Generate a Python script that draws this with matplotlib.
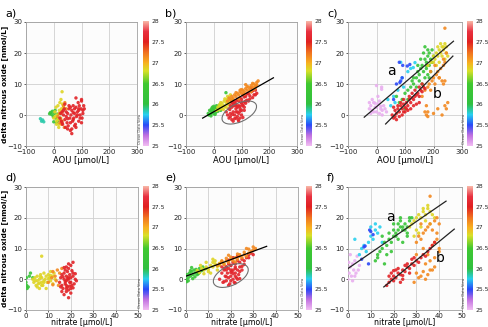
import matplotlib
matplotlib.use("Agg")
import matplotlib.pyplot as plt
import numpy as np
from matplotlib.colors import LinearSegmentedColormap, Normalize
from matplotlib.patches import Ellipse
import matplotlib.cm as cm

# ---------------- data ----------------
# panel a: AOU vs delta N2O (groups with density)
a_teal_x = [-48, -44, -40, -36]
a_teal_y = [-1.2, -2.0, -1.6, -2.2]
a_green_x = [-12, -8, -5, -2, 2, 5, 8, 12, 15, -15, 0, 10]
a_green_y = [0.8, 0.2, 1.2, -0.5, 0.5, 1.5, -1.0, 0.3, -1.8, 0.4, -2.2, -2.5]
a_yellow_x = [0, 4, 8, 10, 12, 15, 18, 20, 22, 25, 28, 30, 5, 14, 24, 32, 35, 18, 10, 26, 30]
a_yellow_y = [-1, 1, 2.5, -2, 0, 3, -3, 1.5, 4, -1, 2, 7.5, -0.5, -1.5, 0.5, 3.5, 2.5, -4, -3, 5, -2]
a_orange_x = [15, 20, 25, 30, 35, 40, 22, 28, 45, 38]
a_orange_y = [-0.5, 0.5, -1.5, 1, 3, 4, -2.5, -3, 2, -4]
a_red_x = [22, 25, 28, 30, 32, 35, 38, 40, 42, 45, 48, 50, 52, 55, 58, 60, 62, 65, 68, 70, 72, 75, 78, 80,
           82, 85, 88, 90, 92, 95, 98, 100, 102, 105, 108, 30, 40, 50, 60, 70, 80, 90, 100, 35, 45, 55, 65,
           75, 85, 95, 105, 60, 70, 50, 80, 90, 100, 110, 65, 75]
a_red_y = [-1, 0.5, -2, 1, -3, 0, 2, -1.5, -4, 1, -2.5, 0.5, -3.5, 2, -1, -5, 0, 1.5, -2, 3, -1, 0.5, -3, 2.5,
           -0.5, 1, 4, -2, 3, 0, 2, 5, -1, 1.5, 3, -2.5, 3.5, -4.5, 2.5, -1.5, -4, 1.5, 4.5, 1.5, -0.5, 3, -6,
           -3.5, 0, -1, 0.5, -2.5, 0.8, -1.2, 5.5, 2, -2.5, 2, -4.5, 2]

# panel d: nitrate vs delta N2O
d_green_x = [0, 0.3, 0.5, 1, 0.2, 1.5, 2, 3]
d_green_y = [-1, -2, -3, -2.5, 0.5, 1, 2, 0.5]
d_yellow_x = [3, 3.5, 4, 4.5, 5, 5, 5.5, 6, 6, 6.5, 7, 7, 7.5, 8, 8, 8.5, 9, 9.5, 10, 10.5, 11, 11, 12, 12.5,
              13, 4, 5, 6, 7, 8, 9, 10, 11, 12, 6.5, 7]
d_yellow_y = [0, -1, 0.5, -2, 1, -0.5, -1.5, 0, -3, 1.5, -1, 0.5, -2, 2, -0.5, 0, 1, -1, 1.5, 0.5, -0.5, 2.5,
              1, 2, 0, -0.5, -2.5, -1.2, -2, -1, -3, 0.2, 1.2, -1.5, 0.8, 7.5]
d_orange_x = [10, 12, 13, 14, 15, 13.5, 11.5, 14.5, 16, 12]
d_orange_y = [-1, 2.5, 1, 3, 2, -0.5, 0.5, -2, 3.5, -1.8]
d_red_x = [15, 15.5, 16, 16, 16.5, 17, 17, 17.5, 17.5, 18, 18, 18, 18.5, 18.5, 19, 19, 19, 19.5, 19.5, 20, 20,
           20, 20.5, 21, 21, 21.5, 22, 22.5, 16, 17, 18, 19, 20, 21, 16.5, 17.5, 18.5, 19.5, 20.5, 15.5, 18,
           19, 17, 20, 21, 22, 18, 19]
d_red_y = [-1, 0.5, -2, 1.5, -3, 0, 2, -1.5, 3, -4, -0.5, 1, -2.5, 2.5, -6, 0, 3.5, -1, 1.5, -3, 0.5, 4.5,
           -2, 1, 5.5, -1.5, 0, -0.5, -4, -5, -2, -3.5, -1, 2, 0.8, -0.8, 0.2, -2.2, 2.8, -2.5, 4, 5, 3.8,
           -4.5, -2.8, 1.8, -3, 0.6]

# panel b
b_green_x = [-20, -15, -12, -10, -8, -5, -3, 0, 2, 5, 8, 10, 12, 15, 18, -10, -5, 0, 5, 10, -18, 20, 25, 44]
b_green_y = [0.5, 1.5, 0.2, 1.2, 2, 0.8, 1.8, 0.4, 1.5, 2.2, 0.9, 1.9, 2.5, 1.2, 2.2, -0.3, 2.5, 2.8, 0.2, 3,
             0, 3.2, 1.5, 7.2]
b_yellow_x = [10, 15, 20, 25, 28, 30, 35, 38, 40, 45, 48, 50, 55, 58, 60, 65, 20, 30, 40, 50, 35, 45, 55, 25, 60]
b_yellow_y = [1.5, 2.5, 1.8, 3, 2.2, 3.8, 3, 4.5, 2.8, 4, 5, 3.6, 4.8, 5.5, 4.2, 5, 3.2, 2, 5.2, 6, 1.8, 2.5,
              3.2, 4, 6.5]
b_orange_x = [50, 55, 60, 65, 70, 75, 80, 85, 90, 95, 100, 105, 110, 115, 120, 125, 130, 135, 140, 145, 150,
              155, 160, 70, 80, 90, 100, 110, 120, 130, 140, 150, 95, 115, 135, 155, 145]
b_orange_y = [4.5, 5.5, 5, 6, 5.5, 6.5, 6, 7, 6.5, 7.5, 7, 8, 7.5, 8.5, 8, 9, 8.5, 9.5, 9, 10, 9.5, 10.5, 11,
              4.8, 7.2, 5.2, 8.2, 6.8, 9.2, 7.8, 10.2, 8.8, 8, 9.8, 7.5, 9.6, 8.3]
b_red_x = [70, 75, 80, 85, 90, 95, 100, 105, 110, 115, 120, 125, 130, 135, 140, 145, 150, 155, 100, 110, 120,
           130, 140, 150, 85, 95, 105, 115, 125, 135]
b_red_y = [3, 4, 3.5, 5, 4.5, 5.5, 5, 6.5, 5.8, 6, 6.8, 7, 6.2, 7.5, 7.8, 6.5, 8, 7, 3.8, 4.2, 4.8, 5.2, 5.6,
           6.5, 2.5, 2.8, 3.2, 3.8, 4.5, 8.8]
b_ell_x = [45, 50, 55, 55, 60, 60, 65, 65, 70, 70, 70, 75, 75, 80, 80, 80, 85, 85, 90, 90, 95, 95, 100, 100,
           105, 110, 115, 60, 70, 80, 90, 100, 65, 75, 85, 95, 105, 110, 58, 68, 78, 88]
b_ell_y = [1, 0, 2, -1, 3, 0.5, -1.5, 2.5, 4, 1, -2, 3, 0, -1, 2, 4.5, 1, -0.5, 3, 0.5, 2, -1, 4, 1.5, 3, 2.5,
           4.5, -0.5, 3.5, 1, -2, 0, 4, -1.2, 2.8, 1.2, -0.8, 1.5, 1.8, 0.2, 3.2, -1.5]
b_line_x = [-40, 215]
b_line_y = [-1, 12]

# panel e
e_green_x = [0, 0.5, 1, 1.5, 2, 2.5, 3, 3.5, 4, 4.5, 5, 5.5, 6, 7, 8, 1, 2, 3, 4, 5, 6, 0.3, 2.5, 7.5, 9]
e_green_y = [0, 1.5, 0.5, 2, 1, 2.5, 1.5, 3, 2, 3.2, 2.5, 1.8, 3.5, 2.8, 3.2, -0.5, 2.8, 0.2, 0.8, 1.5, 2.2,
             -0.8, 3.8, 4, 3.5]
e_yellow_x = [5, 6, 7, 8, 9, 10, 11, 12, 13, 14, 15, 8, 10, 12, 14, 16, 9, 11, 13, 15, 17, 12, 6.5]
e_yellow_y = [2.8, 2.2, 3.5, 3, 4, 3.2, 4.5, 4, 5, 4.2, 5.2, 1.8, 2.5, 5.5, 3, 5.8, 5.5, 2, 6, 4.5, 5, 6.5, 4.5]
e_orange_x = [14, 15, 16, 17, 18, 19, 20, 21, 22, 23, 24, 25, 26, 27, 28, 29, 30, 31, 18, 20, 22, 24, 26, 28,
              30, 16, 19, 23, 27]
e_orange_y = [4.5, 5, 5.5, 4.8, 6, 5.5, 6.5, 6, 7, 6.5, 7.5, 7, 8, 7.5, 8.5, 9, 10.5, 10, 6.8, 7.2, 5.6, 8, 8.8,
              9.8, 9.5, 6, 7.8, 8.2, 10]
e_red_x = [17, 18, 19, 20, 21, 22, 23, 24, 25, 26, 27, 28, 29, 30, 20, 22, 24, 26, 19, 21, 23, 25, 28]
e_red_y = [3.5, 4, 5, 4.5, 5.5, 5, 6, 5.5, 6.5, 6, 7, 8, 8.5, 8, 3, 3.5, 4, 4.8, 6.2, 7, 7.5, 4.2, 7]
e_ell_x = [15, 16, 16.5, 17, 17.5, 18, 18, 18.5, 19, 19, 19.5, 20, 20, 20.5, 21, 21, 21.5, 22, 22, 22.5, 23,
           23.5, 24, 25, 17, 18, 19, 20, 21, 22, 23, 16, 18, 20, 22, 24]
e_ell_y = [0, 2, -1, 3, 1, -0.5, 4, 2, 0.5, 3.5, -1.5, 1, 4.5, 2.5, 0, 3, -1, 2, 4, 0.5, 3, 1.5, 2.5, 3, -0.8,
           0.8, -2, -0.5, 1.8, -1.2, 0, 4, 3, 2.2, 1, 0.2]
e_line_x = [0, 36]
e_line_y = [1, 10.7]

# panel c
c_pink_x = [-25, -20, -15, -10, -5, 0, 5, 10, 15, 20, 25, -20, -10, 0, 10, 20, -15, -5, 5, 15, 30, -25, 35, 0, 18, 18]
c_pink_y = [2, 3, 1.5, 4, 2.5, 1, 3.5, 0.5, 2, 1.5, 3, 0.5, 1, 2.5, 4.5, 0, 5, 3.8, 6, 2.8, 2, 4, 1, 9.5, 9, 8.3]
c_blue_x = [70, 82, 85, 92, 108, 117, 80, 90, 60]
c_blue_y = [10, 10.5, 11, 16, 15.8, 16.3, 17, 12, 5]
c_cyan_x = [60, 65, 75, 90, 110, 120, 129, 95, 50, 40, 85, 135]
c_cyan_y = [6, 4, 8, 12, 14, 15, 15.3, 9, 3, 5, 17, 16.9]
c_green_x = [70, 80, 90, 100, 110, 120, 125, 130, 140, 145, 150, 155, 160, 165, 170, 170, 175, 175, 180, 180,
             185, 185, 190, 190, 195, 200, 160, 150, 140, 130, 165, 175, 185, 195, 155, 145, 170, 180, 100, 110]
c_green_y = [6, 4, 5, 7, 8, 9, 11, 10, 12, 14, 13, 15, 16, 14, 18, 12, 17, 15, 19, 13, 16, 20, 18, 14, 17, 19,
             10, 11, 9, 12, 20, 16, 12, 21, 18, 16, 22, 21, 2, 5]
c_yellow_x = [200, 205, 210, 215, 220, 225, 230, 235, 240, 245, 210, 220, 230, 240, 215, 225, 235, 200, 190, 180,
              245, 250]
c_yellow_y = [17, 18, 20, 19, 21, 20, 22, 21, 23, 20, 16, 17, 19, 18, 22, 23, 22, 19, 17, 16, 22, 19]
c_orange_x = [160, 170, 180, 185, 190, 195, 200, 205, 210, 215, 220, 225, 230, 235, 240, 175, 190, 205, 220, 235,
              180, 200, 215, 230, 240, 245, 170, 175, 180, 250, 240, 245, 235, 240]
c_orange_y = [6, 8, 9, 10, 8, 11, 12, 10, 13, 14, 12, 15, 11, 16, 17, 3, 14, 16, 12, 10, 1, 0.5, 2, 0, 3, 2, 1,
              0, -0.5, 4, 28, 20, 18, 11]
c_red_x = [55, 60, 65, 70, 75, 80, 85, 90, 95, 100, 105, 110, 115, 120, 125, 130, 135, 140, 145, 150, 155, 160,
           165, 170, 70, 80, 90, 100, 110, 120, 130, 140, 150, 60, 75, 85, 95, 105, 115, 125, 65, 95, 135, 150, 160]
c_red_y = [0, -1, 1.5, 0.5, 2, 1, 3, 2, 3.5, 2.5, 4, 3, 5, 4, 5.5, 5, 6, 6.5, 7, 6, 8, 7.5, 9, 8.5, -1.5, -0.5,
           0, 1, 1.5, 2, 3, 3.5, 4, 2.5, 3, 4, 1, 2, 6, 7, -0.5, 5, 8, 9, 10]
c_line_a_x = [-43, 270]
c_line_a_y = [-0.7, 23.8]
c_line_b_x = [32, 268]
c_line_b_y = [-2.9, 19.0]

# panel f
f_pink_x = [0, 0.5, 1, 1.5, 2, 2.5, 3, 3.5, 4, 5, 1, 2, 3, 0.3, 4.5]
f_pink_y = [0, 2, 4, 1, 5, 3, 6, 2, 7.5, 4.5, 8, -0.5, 1, 5.5, 3]
f_cyan_x = [5, 6, 7, 8, 9, 10, 11, 12, 13, 14, 15, 12, 10, 3]
f_cyan_y = [8, 10, 11, 9, 12, 14, 13, 16, 15, 17, 12, 18, 17, 13]
f_blue_x = [7, 7.5, 9.5, 10, 11, 6, 9]
f_blue_y = [10.5, 10.8, 16, 15.5, 14.5, 6.5, 5]
f_green_x = [12, 13, 14, 15, 16, 17, 18, 19, 20, 21, 22, 23, 24, 25, 26, 27, 28, 18, 20, 22, 24, 26, 17, 19, 21,
             23, 25, 27, 15, 13, 16, 22, 24, 26, 20, 23]
f_green_y = [6, 8, 9, 10, 12, 11, 13, 12, 14, 15, 16, 17, 16, 18, 17, 19, 20, 15, 16, 18, 17, 15, 8, 9, 14, 19,
             16, 20, 14, 7, 5, 13, 12, 14, 18, 20]
f_yellow_x = [27, 28, 29, 30, 31, 32, 33, 34, 35, 36, 37, 30, 32, 34, 36, 38, 29, 31, 33, 35]
f_yellow_y = [17, 18, 19, 20, 21, 20, 22, 21, 23, 22, 21, 16, 17, 19, 18, 20, 14, 15, 23, 24]
f_orange_x = [30, 31, 32, 33, 34, 35, 36, 37, 38, 39, 40, 33, 35, 37, 39, 34, 36, 38, 40, 30, 32, 34, 36, 38, 29,
              31, 33, 35, 37, 36, 39, 40, 38, 30, 32]
f_orange_y = [12, 14, 13, 15, 16, 17, 18, 16, 19, 20, 18, 10, 8, 11, 13, 5, 6, 7, 9, 2, 1, 0, 3, 4, -1, 0.5, 2.5,
              1.5, 3, 27, 15, 10, 12, 8, 18]
f_red_x = [17, 18, 19, 20, 21, 22, 23, 24, 25, 26, 27, 28, 29, 30, 31, 32, 33, 34, 35, 36, 37, 38, 18, 20, 22,
           24, 26, 28, 19, 21, 23, 25, 27, 29, 20, 24]
f_red_y = [-2, -1, 0, 1, 0.5, 2, 1.5, 3, 2.5, 4, 3.5, 5, 4.5, 6, 5.5, 7, 8, 7.5, 9, 10, 11, 12, 1, -0.5, 3.5, 0,
           5, 6.5, 2, 3, -1, 4.5, 2, 7, 2.8, 1.2]
f_line_a_x = [0, 43]
f_line_a_y = [3.5, 25.4]
f_line_b_x = [15.7, 46.6]
f_line_b_y = [-2.5, 16.3]

# density value per group
sig = {"pink": 25.05, "blue": 25.5, "cyan": 25.75, "teal": 25.85, "green": 26.25, "yellow": 26.85,
       "orange": 27.15, "red": 27.55, "ell": 27.6}

cb_ticks = [25, 25.5, 26, 26.5, 27, 27.5, 28]
cb_ticklabels = ["25", "25.5", "26", "26.5", "27", "27.5", "28"]

# ---------------- style ----------------
odv = LinearSegmentedColormap.from_list("odv", [
    (0.000, "#f2bef2"), (0.083, "#c070e0"), (0.167, "#2848f8"), (0.250, "#28d0f0"),
    (0.333, "#30c040"), (0.500, "#40c830"), (0.600, "#d8e028"), (0.667, "#f8b020"),
    (0.750, "#f07020"), (0.833, "#e02020"), (0.917, "#e83040"), (1.000, "#f8b8a8")])
norm = Normalize(25, 28)

fig = plt.figure(figsize=(4.88, 3.27), dpi=100)
W, H = 488.0, 327.0

def axbox(l, t, r, b):
    return [l / W, 1 - b / H, (r - l) / W, (b - t) / H]

panels = {
    "a": axbox(26, 22, 137, 146), "b": axbox(186, 22, 297, 146), "c": axbox(348, 22, 462, 146),
    "d": axbox(26, 187, 138, 310), "e": axbox(186, 187, 298, 310), "f": axbox(348, 187, 462, 310),
}
cbars = {
    "a": axbox(143, 21, 149, 146), "b": axbox(306, 21, 312, 146), "c": axbox(467, 21, 473, 146),
    "d": axbox(143, 186, 149, 310), "e": axbox(306, 186, 312, 310), "f": axbox(467, 186, 473, 310),
}

groups = {
    "a": [(a_teal_x, a_teal_y, "teal"), (a_green_x, a_green_y, "green"), (a_yellow_x, a_yellow_y, "yellow"),
          (a_orange_x, a_orange_y, "orange"), (a_red_x, a_red_y, "red")],
    "d": [(d_green_x, d_green_y, "green"), (d_yellow_x, d_yellow_y, "yellow"),
          (d_orange_x, d_orange_y, "orange"), (d_red_x, d_red_y, "red")],
    "b": [(b_green_x, b_green_y, "green"), (b_yellow_x, b_yellow_y, "yellow"), (b_red_x, b_red_y, "red"),
          (b_orange_x, b_orange_y, "orange"), (b_ell_x, b_ell_y, "ell")],
    "e": [(e_green_x, e_green_y, "green"), (e_yellow_x, e_yellow_y, "yellow"), (e_red_x, e_red_y, "red"),
          (e_orange_x, e_orange_y, "orange"), (e_ell_x, e_ell_y, "ell")],
    "c": [(c_pink_x, c_pink_y, "pink"), (c_cyan_x, c_cyan_y, "cyan"), (c_blue_x, c_blue_y, "blue"),
          (c_green_x, c_green_y, "green"), (c_yellow_x, c_yellow_y, "yellow"),
          (c_orange_x, c_orange_y, "orange"), (c_red_x, c_red_y, "red")],
    "f": [(f_pink_x, f_pink_y, "pink"), (f_cyan_x, f_cyan_y, "cyan"), (f_blue_x, f_blue_y, "blue"),
          (f_green_x, f_green_y, "green"), (f_yellow_x, f_yellow_y, "yellow"),
          (f_orange_x, f_orange_y, "orange"), (f_red_x, f_red_y, "red")],
}

for key in "abcdef":
    ax = fig.add_axes(panels[key])
    ax.set_facecolor("#fcfcfc")
    top = key in "abc"
    ax.set_ylim(-10, 30)
    ax.set_yticks([-10, 0, 10, 20, 30])
    ax.tick_params(labelsize=5, length=1.5, width=0.5, pad=1, colors="#222222")
    if top:
        ax.set_xlim(-100, 300)
        ax.set_xticks([-100, 0, 100, 200, 300])
        ax.set_xlabel("AOU [µmol/L]", fontsize=6, labelpad=0.5)
    else:
        ax.set_xlim(0, 50)
        ax.set_xticks([0, 10, 20, 30, 40, 50])
        ax.tick_params(axis="x", pad=0.5)
        ax.set_xlabel("nitrate [µmol/L]", fontsize=5.6, labelpad=-0.8)
    ax.grid(True, color="#cfcfcf", lw=0.6)
    ax.set_axisbelow(True)
    for s in ax.spines.values():
        s.set_color("#a0a0a0")
        s.set_linewidth(0.6)
    if key in "ad":
        ax.set_ylabel("delta nitrous oxide [nmol/L]", fontsize=5.3, fontweight="bold")
        ax.yaxis.set_label_coords(-0.165, 0.5)
    for gx, gy, gname in groups[key]:
        vals = [sig[gname]] * len(gx)
        ax.scatter(gx, gy, c=vals, cmap=odv, norm=norm, s=6, linewidths=0, alpha=0.9, zorder=3)
    if key == "b":
        ax.plot(b_line_x, b_line_y, color="black", lw=0.9, zorder=4)
        ax.add_patch(Ellipse((0.48, 0.27), 0.33, 0.15, angle=22, transform=ax.transAxes,
                             fill=False, ec="#707070", lw=0.8, zorder=4))
    if key == "e":
        ax.plot(e_line_x, e_line_y, color="black", lw=0.9, zorder=4)
        ax.add_patch(Ellipse((0.40, 0.28), 0.33, 0.16, angle=22, transform=ax.transAxes,
                             fill=False, ec="#707070", lw=0.8, zorder=4))
    if key == "c":
        ax.plot(c_line_a_x, c_line_a_y, color="#222222", lw=0.9, zorder=4)
        ax.plot(c_line_b_x, c_line_b_y, color="#222222", lw=0.9, zorder=4)
        ax.text(53, 14.2, "a", fontsize=10, ha="center", va="center", zorder=5)
        ax.text(212, 6.7, "b", fontsize=10, ha="center", va="center", zorder=5)
    if key == "f":
        ax.plot(f_line_a_x, f_line_a_y, color="#222222", lw=0.9, zorder=4)
        ax.plot(f_line_b_x, f_line_b_y, color="#222222", lw=0.9, zorder=4)
        ax.text(18.8, 20.1, "a", fontsize=10, ha="center", va="center", zorder=5)
        ax.text(40.4, 7.0, "b", fontsize=10, ha="center", va="center", zorder=5)
    # panel letter
    pos = panels[key]
    fig.text(pos[0] - 21 / W, pos[1] + pos[3] + 9 / H, key + ")", fontsize=8, ha="left", va="center")

    cax = fig.add_axes(cbars[key])
    cb = fig.colorbar(cm.ScalarMappable(norm=norm, cmap=odv), cax=cax)
    cb.set_ticks(cb_ticks)
    cb.set_ticklabels(cb_ticklabels)
    cb.outline.set_visible(False)
    cax.tick_params(labelsize=4.3, length=0, pad=1.5, colors="#222222")
    cax.text(-0.5, 0.02, "Ocean Data View", rotation=90, fontsize=2.5, transform=cax.transAxes,
             ha="center", va="bottom", color="#444444")

fig.savefig("out.png", dpi=100)
